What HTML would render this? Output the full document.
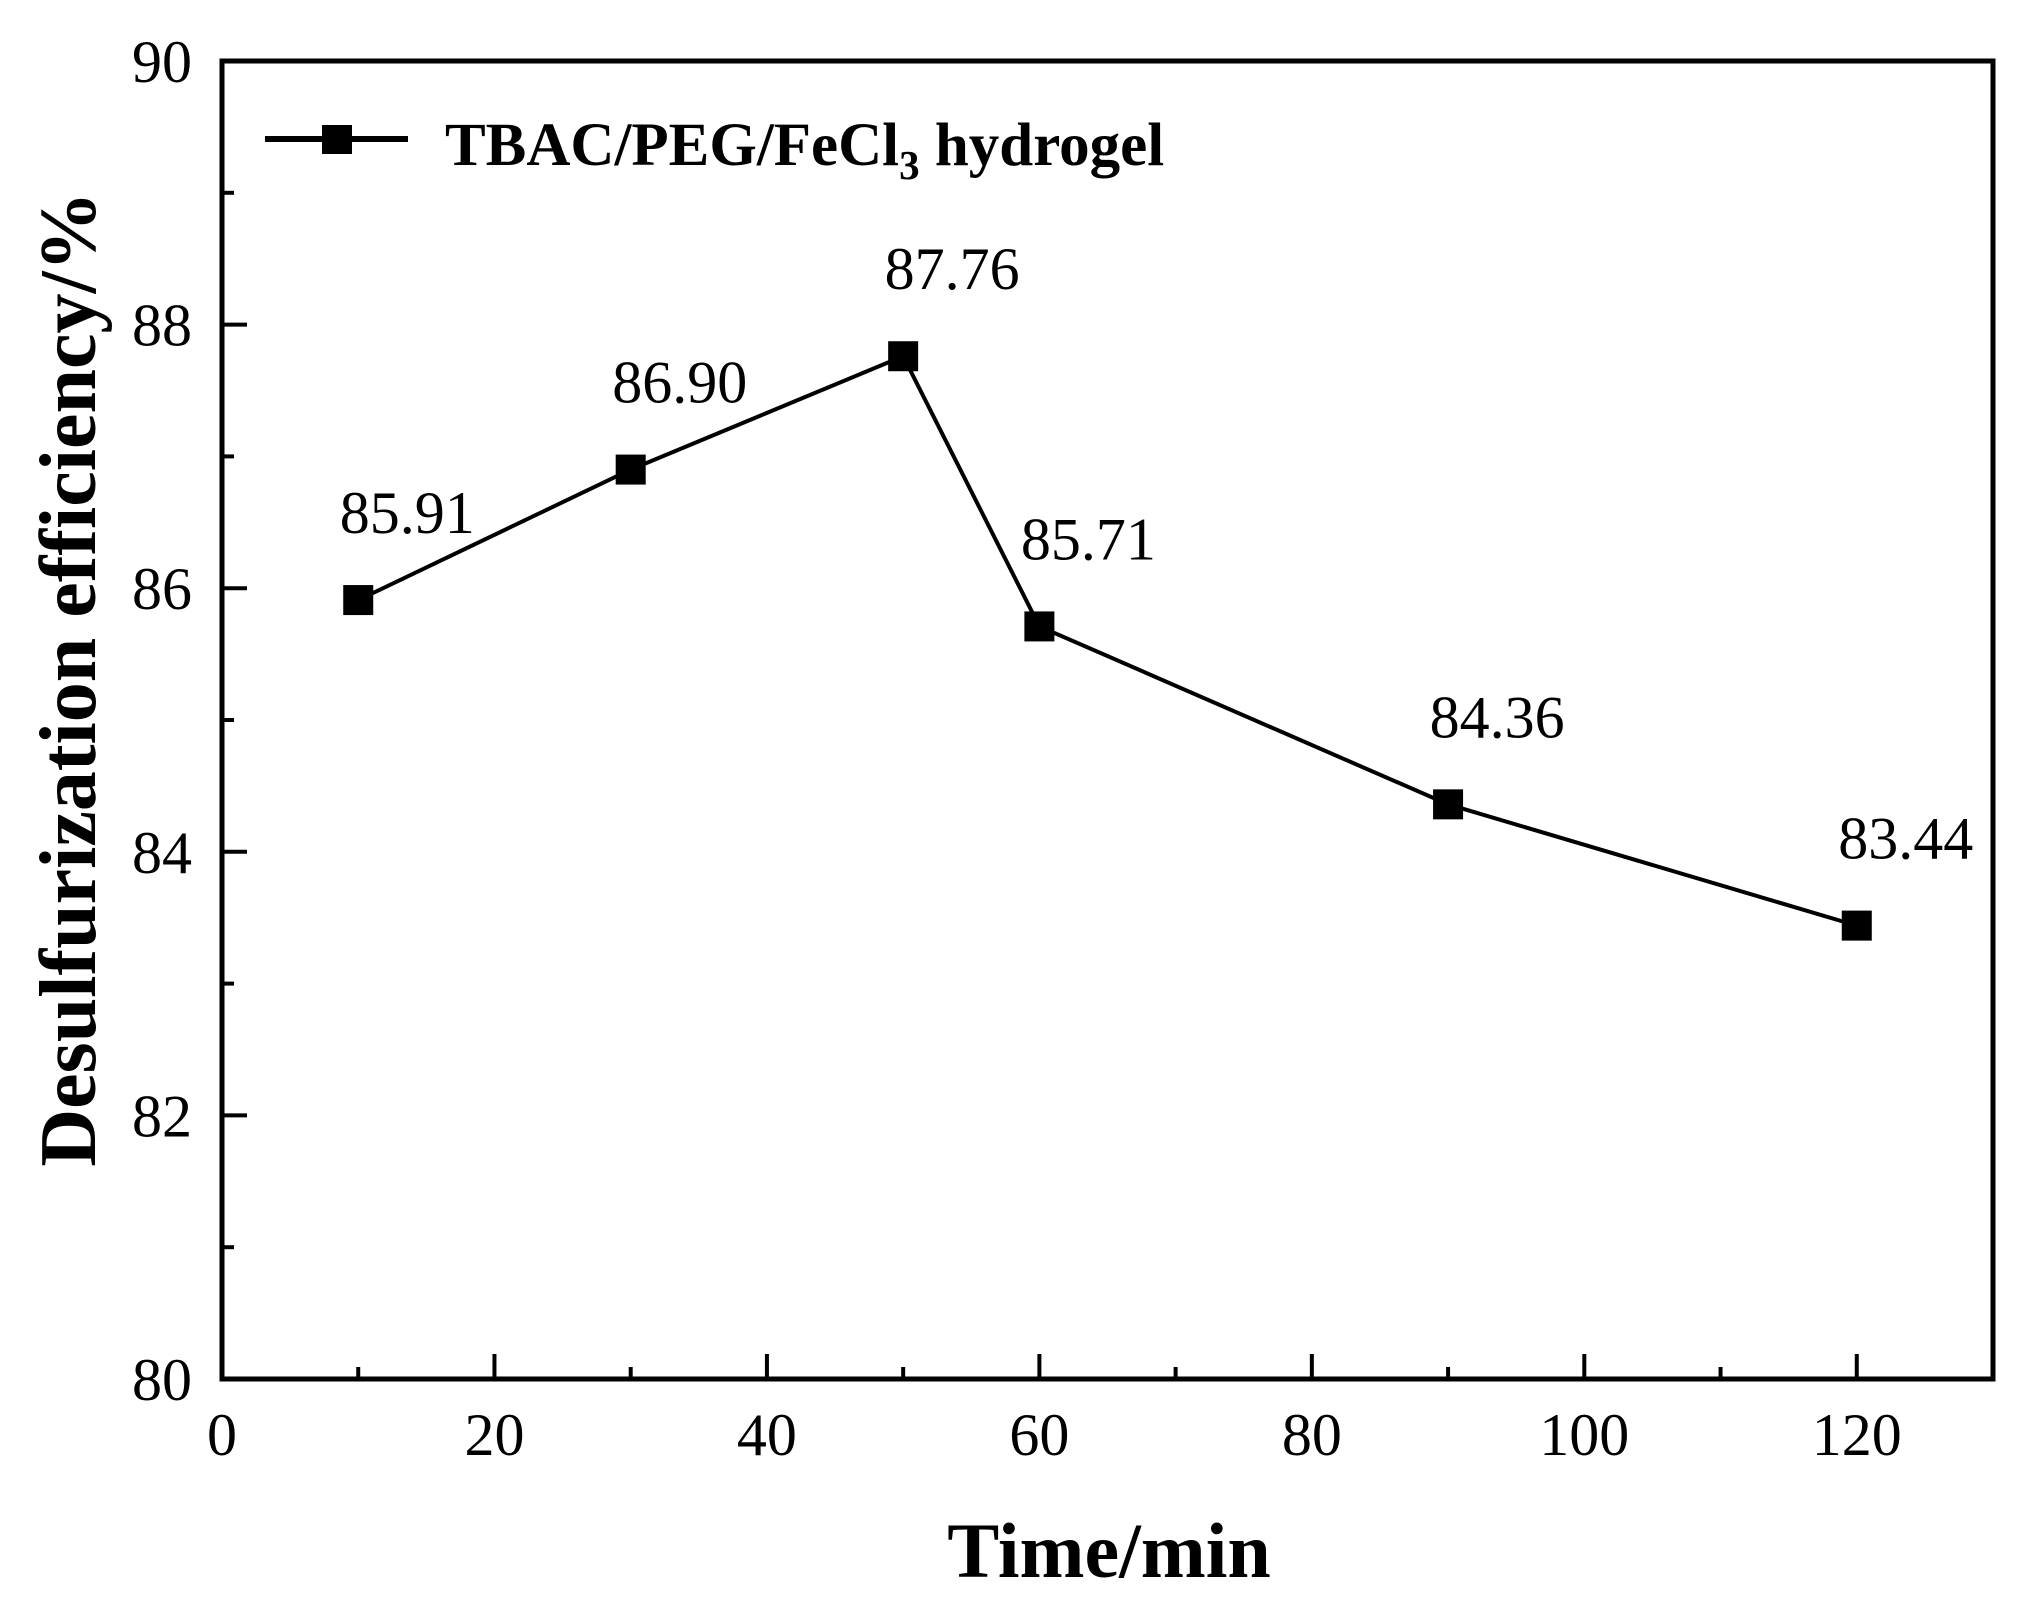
<!DOCTYPE html>
<html><head><meta charset="utf-8"><style>
html,body{margin:0;padding:0;background:#fff;}
svg{display:block;font-family:"Liberation Serif",serif;}
</style></head><body>
<svg id="chart" width="2023" height="1616" viewBox="0 0 2023 1616">
<g id="axes"></g>
<g id="series"></g>
<g>
  <line x1="265" y1="139" x2="408" y2="139" stroke="#000" stroke-width="6"/>
  <rect x="322" y="125" width="30" height="29" fill="#000"/>
  <text x="445" y="165" font-size="61" font-weight="bold">TBAC/PEG/FeCl<tspan font-size="41" dy="14">3</tspan><tspan dy="-14"> hydrogel</tspan></text>
</g>
<text x="1109" y="1577" font-size="78" font-weight="bold" text-anchor="middle">Time/min</text>
<text transform="translate(95,679) rotate(-90)" font-size="80" font-weight="bold" text-anchor="middle">Desulfurization efficiency/%</text>
</svg>
<script>
const xValues = [10, 30, 50, 60, 90, 120];
const yValues = [85.91, 86.90, 87.76, 85.71, 84.36, 83.44];
const valueLabels = ["85.91", "86.90", "87.76", "85.71", "84.36", "83.44"];
const xTicks = [0, 20, 40, 60, 80, 100, 120];
const yTicks = [80, 82, 84, 86, 88, 90];

const L = 222, R = 1993, T = 61, B = 1379;
const xMin = 0, xMax = 130, yMin = 80, yMax = 90;
function sx(v){ return L + (v - xMin) / (xMax - xMin) * (R - L); }
function sy(v){ return B - (v - yMin) / (yMax - yMin) * (B - T); }
const NS = "http://www.w3.org/2000/svg";
function mk(tag, attrs, parent){
  const e = document.createElementNS(NS, tag);
  for (const k in attrs) e.setAttribute(k, attrs[k]);
  parent.appendChild(e);
  return e;
}
const axes = document.getElementById('axes');
const frame = mk('rect', {x:L, y:T, width:R-L, height:B-T, fill:'none', stroke:'#000', 'stroke-width':5}, axes);


for (let v = 10; v < 130; v += 10) {
  const major = v % 20 === 0;
  const t = mk('line', {x1:sx(v), x2:sx(v), y1:B, y2:B-(major?25:12), stroke:'#000', 'stroke-width':4}, axes);
  
  
}
xTicks.forEach(v => {
  const t = mk('text', {x:sx(v), y:1455, 'font-size':60, 'text-anchor':'middle'}, axes);
  t.textContent = String(v);
  
  
});
for (let v = 81; v < 90; v += 1) {
  const major = v % 2 === 0;
  const t = mk('line', {x1:L, x2:L+(major?25:12), y1:sy(v), y2:sy(v), stroke:'#000', 'stroke-width':4}, axes);
  
  
}
yTicks.forEach(v => {
  const t = mk('text', {x:192, y:sy(v)+21, 'font-size':60, 'text-anchor':'end'}, axes);
  t.textContent = String(v);
  
  
});
const series = document.getElementById('series');
const pts = xValues.map((x,i) => sx(x) + ',' + sy(yValues[i])).join(' ');
const line = mk('polyline', {points:pts, fill:'none', stroke:'#000', 'stroke-width':4}, series);


xValues.forEach((x,i) => {
  const m = mk('rect', {x:sx(x)-15, y:sy(yValues[i])-15, width:30, height:30, fill:'#000'}, series);
  
  
  const t = mk('text', {x:sx(x)+49, y:sy(yValues[i])-67, 'font-size':60, 'text-anchor':'middle'}, series);
  t.textContent = valueLabels[i];
  
  
});
</script>
</body></html>
